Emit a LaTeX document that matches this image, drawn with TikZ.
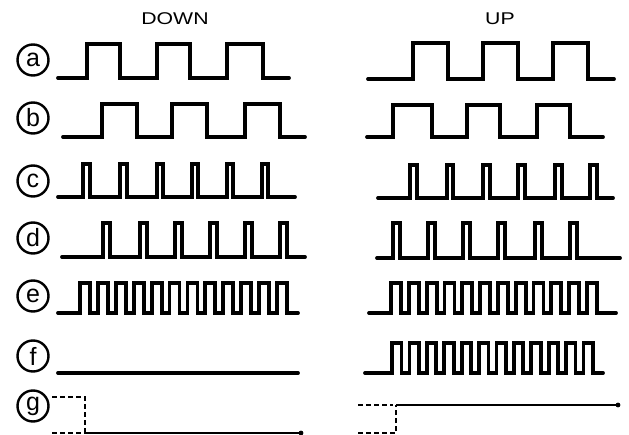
\documentclass[tikz,border=0pt]{standalone}
\usepackage{fontspec}
\usepackage{graphicx}
\setmainfont{Liberation Sans}
\tikzset{
  wv/.style={line width=3.8pt, line join=miter, line cap=round},
  dsh/.style={line width=2.6pt, dash pattern=on 5pt off 3pt},
  lbl/.style={circle, draw, line width=2.4pt, minimum size=31pt, inner sep=0pt, font=\fontsize{25}{25}\selectfont},
  ttl/.style={font=\fontsize{17}{17}\selectfont}
}
% #1 low y, #2 high y, #3 start x, #4 rise/fall list, #5 end x
\newcommand\mywave[5]{\draw[wv] (#3,#1) \foreach \r/\f in {#4}{ -- (\r,#1) -- (\r,#2) -- (\f,#2) -- (\f,#1)} -- (#5,#1);}
% fast wave: #1 low, #2 high, #3 start, #4 first rise, #5 period, #6 width, #7 end
\newcommand\myfast[7]{\draw[wv] (#3,#1) \foreach \i in {0,...,11}{ -- ({#4+#5*\i},#1) -- ({#4+#5*\i},#2) -- ({#4+#5*\i+#6},#2) -- ({#4+#5*\i+#6},#1)} -- (#7,#1);}
\begin{document}
\begin{tikzpicture}[x=1pt,y=-1pt]
\useasboundingbox (0,0) rectangle (629,435);
\node[ttl] (tdown) at (175,19) {\scalebox{1.25}[1]{DOWN}};
\node[ttl] (tup) at (500,19) {\scalebox{1.25}[1]{UP}};
\node[lbl] (la) at (33,60) {a};
\node[lbl] (lb) at (33,118) {b};
\node[lbl] (lc) at (33,181) {c};
\node[lbl] (ld) at (33,238) {d};
\node[lbl] (le) at (33,296) {e};
\node[lbl] (lf) at (33,356) {f};
\node[lbl] (lg) at (33,406) {g};
% a
\mywave{78}{44}{58}{87/120,157/190,227/263}{289}
\mywave{79}{43}{368}{413/448,483/518,553/588}{614}
% b
\mywave{137}{104}{63}{102/137,172/207,245/280}{305}
\mywave{137}{105}{367}{393/432,467/500,537/570}{603}
% c
\mywave{197}{164}{58}{83/90,120/127,157/163,192/198,227/233,262/268}{295}
\mywave{198}{165}{378}{410/417,447/453,483/490,518/525,555/562,590/597}{613}
% d
\mywave{257}{223}{62}{103/110,140/147,175/182,210/217,245/252,280/287}{305}
\mywave{258}{223}{377}{393/400,428/435,463/470,498/505,535/542,570/577}{620}
% e
\myfast{313}{283}{58}{80}{17.9}{10}{298}
\myfast{313}{283}{369}{391}{17.8}{10}{616}
% f
\draw[wv] (58,373) -- (298,373);
\myfast{373}{343}{365}{392}{17.4}{9.5}{603}
% g down
\draw[dsh] (52,397) -- (85,397) -- (85,433);
\draw[dsh] (52,433) -- (85,433);
\draw[line width=2.6pt] (85,433) -- (300,433);
\fill (301,433) circle (2.4pt);
% g up
\draw[dsh] (358,405) -- (393,405);
\draw[dsh] (358,433) -- (393,433) -- (396,433) -- (396,405);
\draw[line width=2.6pt] (396,405) -- (617,405);
\fill (618,405) circle (2.4pt);
\end{tikzpicture}
\end{document}
